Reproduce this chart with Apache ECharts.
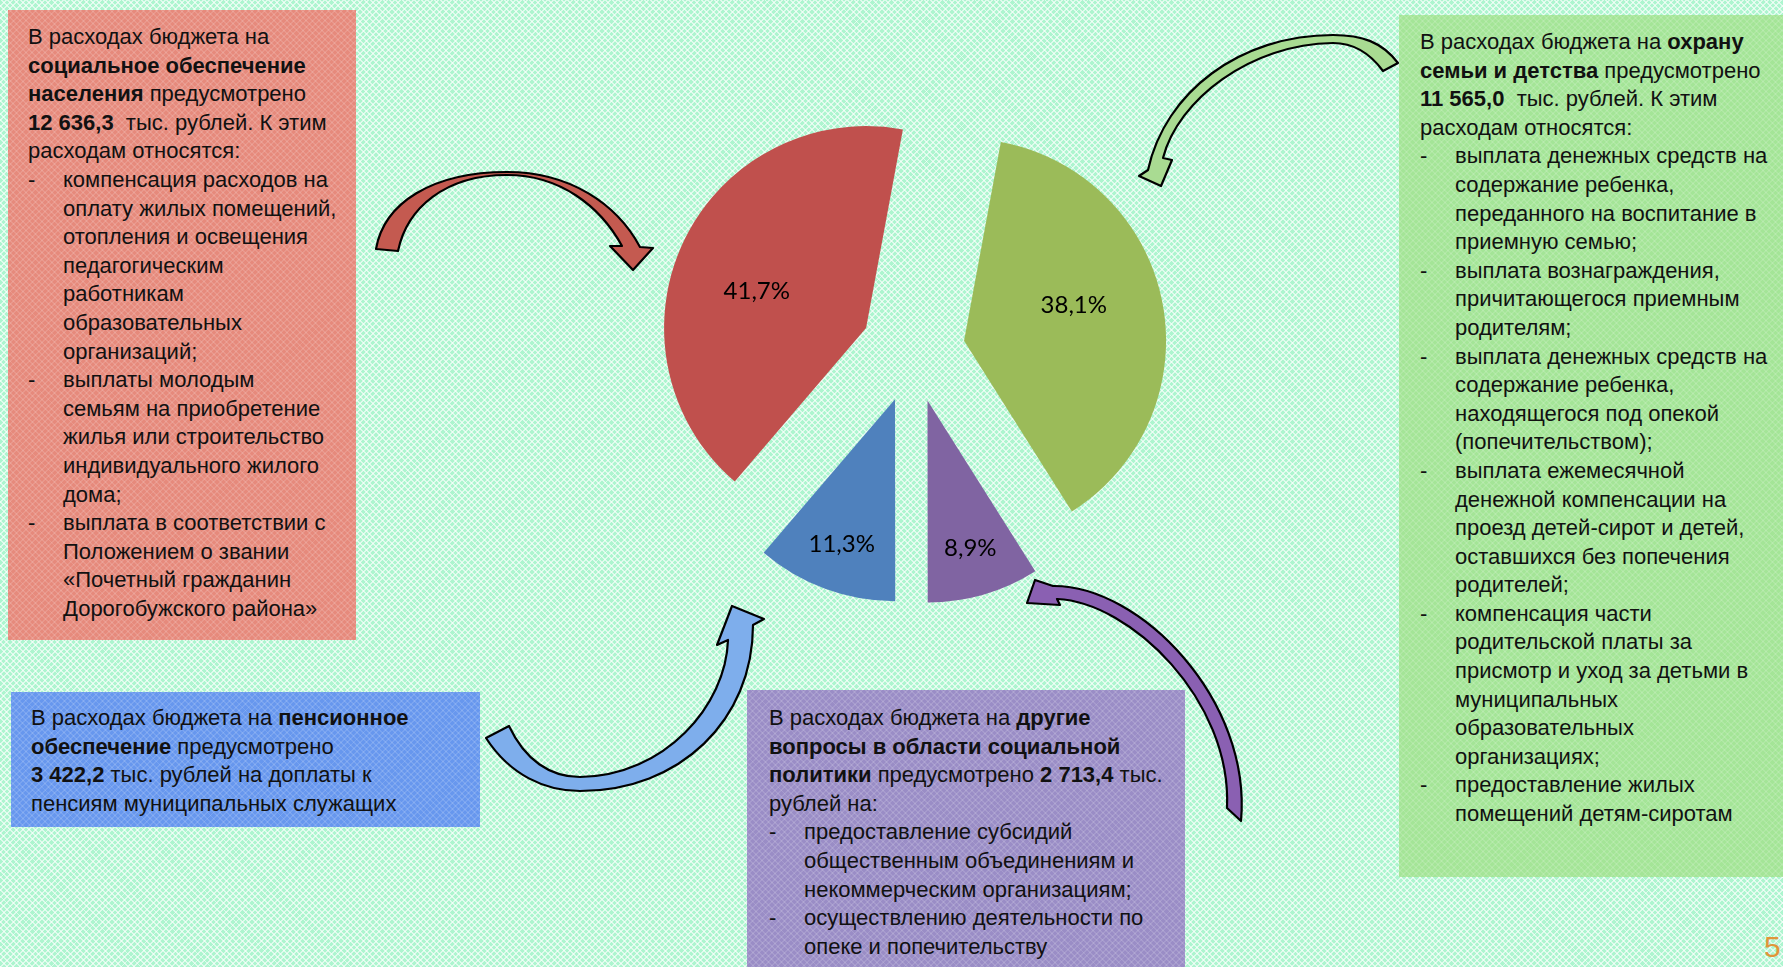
<!DOCTYPE html>
<html>
<head>
<meta charset="utf-8">
<script src="https://cdn.jsdelivr.net/npm/echarts@6/dist/echarts.min.js"></script>
<style>
html,body{margin:0;padding:0;width:1783px;height:967px;overflow:hidden;}
body{
  background-color:#adf5cf;
  background-image:
    repeating-linear-gradient(45deg, rgba(255,255,255,.6) 0px, rgba(255,255,255,.6) 1.4px, rgba(255,255,255,0) 1.4px, rgba(255,255,255,0) 4.5px),
    repeating-linear-gradient(-45deg, rgba(255,255,255,.6) 0px, rgba(255,255,255,.6) 1.4px, rgba(255,255,255,0) 1.4px, rgba(255,255,255,0) 4.5px);
}
.box{position:absolute;box-sizing:border-box;font-family:"Liberation Sans",Arial,sans-serif;font-size:22px;line-height:28.6px;color:#111;white-space:nowrap;
  background-image:
    repeating-linear-gradient(45deg, rgba(255,255,255,.12) 0px, rgba(255,255,255,.12) 1.4px, rgba(255,255,255,0) 1.4px, rgba(255,255,255,0) 4.5px),
    repeating-linear-gradient(-45deg, rgba(255,255,255,.12) 0px, rgba(255,255,255,.12) 1.4px, rgba(255,255,255,0) 1.4px, rgba(255,255,255,0) 4.5px);}
.li{position:relative;padding-left:35px;}
.li .d{position:absolute;left:0;top:0;}
#b-red{left:8px;top:10px;width:348px;height:630px;background-color:#e68a7c;padding:13px 0 0 20px;}
#b-green{left:1399px;top:15px;width:384px;height:862px;background-color:#a4e597;padding:13px 0 0 21px;}
#b-blue{left:11px;top:692px;width:469px;height:135px;background-color:#6797ee;padding:12px 0 0 20px;}
#b-purple{left:747px;top:690px;width:438px;height:277px;background-color:#9a8dc6;padding:14px 0 0 22px;}
#pg{position:absolute;left:1764px;top:930px;font-family:"Liberation Sans",Arial,sans-serif;font-size:30px;color:#e0953a;}
#chart{position:absolute;left:0;top:0;width:1783px;height:967px;}
</style>
</head>
<body>
<div class="box" id="b-red">
В расходах бюджета на<br>
<b>социальное обеспечение</b><br>
<b>населения</b> предусмотрено<br>
<b>12 636,3</b>&nbsp; тыс. рублей. К этим<br>
расходам относятся:
<div class="li"><span class="d">-</span>компенсация расходов на<br>оплату жилых помещений,<br>отопления и освещения<br>педагогическим<br>работникам<br>образовательных<br>организаций;</div>
<div class="li"><span class="d">-</span>выплаты молодым<br>семьям на приобретение<br>жилья или строительство<br>индивидуального жилого<br>дома;</div>
<div class="li"><span class="d">-</span>выплата в соответствии с<br>Положением о звании<br>«Почетный гражданин<br>Дорогобужского района»</div>
</div>
<div class="box" id="b-green">
В расходах бюджета на <b>охрану</b><br>
<b>семьи и детства</b> предусмотрено<br>
<b>11 565,0</b>&nbsp; тыс. рублей. К этим<br>
расходам относятся:
<div class="li"><span class="d">-</span>выплата денежных средств на<br>содержание ребенка,<br>переданного на воспитание в<br>приемную семью;</div>
<div class="li"><span class="d">-</span>выплата вознаграждения,<br>причитающегося приемным<br>родителям;</div>
<div class="li"><span class="d">-</span>выплата денежных средств на<br>содержание ребенка,<br>находящегося под опекой<br>(попечительством);</div>
<div class="li"><span class="d">-</span>выплата ежемесячной<br>денежной компенсации на<br>проезд детей-сирот и детей,<br>оставшихся без попечения<br>родителей;</div>
<div class="li"><span class="d">-</span>компенсация части<br>родительской платы за<br>присмотр и уход за детьми в<br>муниципальных<br>образовательных<br>организациях;</div>
<div class="li"><span class="d">-</span>предоставление жилых<br>помещений детям-сиротам</div>
</div>
<div class="box" id="b-blue">
В расходах бюджета на <b>пенсионное</b><br>
<b>обеспечение</b> предусмотрено<br>
<b>3 422,2</b> тыс. рублей на доплаты к<br>
пенсиям муниципальных служащих
</div>
<div class="box" id="b-purple">
В расходах бюджета на <b>другие</b><br>
<b>вопросы в области социальной</b><br>
<b>политики</b> предусмотрено <b>2 713,4</b> тыс.<br>
рублей на:
<div class="li"><span class="d">-</span>предоставление субсидий<br>общественным объединениям и<br>некоммерческим организациям;</div>
<div class="li"><span class="d">-</span>осуществлению деятельности по<br>опеке и попечительству</div>
</div>
<div id="pg">5</div>
<div id="chart"></div>
<script>
// Data (clockwise from the top, as in the reference)
const categories = ['Охрана семьи и детства', 'Другие вопросы в области социальной политики', 'Пенсионное обеспечение', 'Социальное обеспечение населения'];
const values = [11565.0, 2713.4, 3422.2, 12636.3];
const sliceColors = ['#9BBB59', '#8064A2', '#4F81BD', '#C0504D'];
// which slices carry their label further out (small slices)
const outerLabel = [false, true, true, false];

const total = values.reduce((a, b) => a + b, 0);
const chart = echarts.init(document.getElementById('chart'), null, {renderer: 'canvas'});

const fmt = p => (p.value / total * 100).toFixed(1).replace('.', ',') + '%';
const center = [913, 350.5];
const R = 202;
const offset = 52;
const startAngle = 79.5;

function pieSeries(radius, opts) {
  return Object.assign({
    type: 'pie',
    center: center,
    radius: radius,
    startAngle: startAngle,
    clockwise: true,
    selectedMode: 'multiple',
    selectedOffset: offset,
    silent: true,
    animation: false,
    avoidLabelOverlap: false,
    emphasis: {disabled: true},
    labelLine: {show: false}
  }, opts);
}

const mainData = categories.map((c, i) => ({name: c, value: values[i], selected: true, itemStyle: {color: sliceColors[i]}}));
const labelData = (wantOuter) => categories.map((c, i) => ({
  name: c, value: values[i], selected: true,
  itemStyle: {color: 'rgba(0,0,0,0)'},
  label: {show: outerLabel[i] === wantOuter}
}));
const labelStyle = {position: 'inside', formatter: fmt, fontFamily: 'Lato', fontSize: 24, color: '#000'};

// decorative curved arrows (not data marks)
const arrows = [
  {d: 'M 376 249 C 384 203 432 172 507 172 C 570 172 617 204 640 247 L 653 248 L 633 270 L 610 246 L 622 246 C 600 206 560 175 507 175 C 445 175 407 208 398 251 Z', fill: '#c45a50'},
  {d: 'M 1398 63 C 1382 42 1362 35 1333 35 C 1240 35 1165 92 1148 170 L 1139 176 L 1161 186 L 1172 160 L 1163 158 C 1178 100 1250 44 1333 43 C 1356 43 1372 56 1383 71 Z', fill: '#a9db92'},
  {d: 'M 486 738 C 510 775 545 791 580 791 C 680 791 753 720 753 625 L 764 619 L 732 606 L 717 645 L 728 640 C 726 705 665 776 580 777 C 550 777 525 760 509 726 Z', fill: '#7eaeec'},
  {d: 'M 1241 821 C 1252 700 1140 585 1053 586 L 1035 580 L 1027 603 L 1060 605 L 1057 599 C 1130 602 1232 700 1227 808 Z', fill: '#8a60b2'}
];

chart.setOption({
  backgroundColor: 'transparent',
  animation: false,
  series: [
    {
      type: 'custom',
      coordinateSystem: 'none',
      silent: true,
      animation: false,
      z: 1,
      data: [0],
      renderItem: function () {
        return {
          type: 'group',
          children: arrows.map(a => ({
            type: 'path',
            shape: {pathData: a.d},
            style: {fill: a.fill, stroke: '#000', lineWidth: 2.2, lineJoin: 'round'}
          }))
        };
      }
    },
    pieSeries(R, {data: mainData, label: {show: false}, z: 2}),
    pieSeries([22, R], {data: labelData(false), label: labelStyle, z: 3, startAngle: startAngle + 4.8}),
    pieSeries([100, R], {data: labelData(true), label: labelStyle, z: 3})
  ]
});
</script>
</body>
</html>
